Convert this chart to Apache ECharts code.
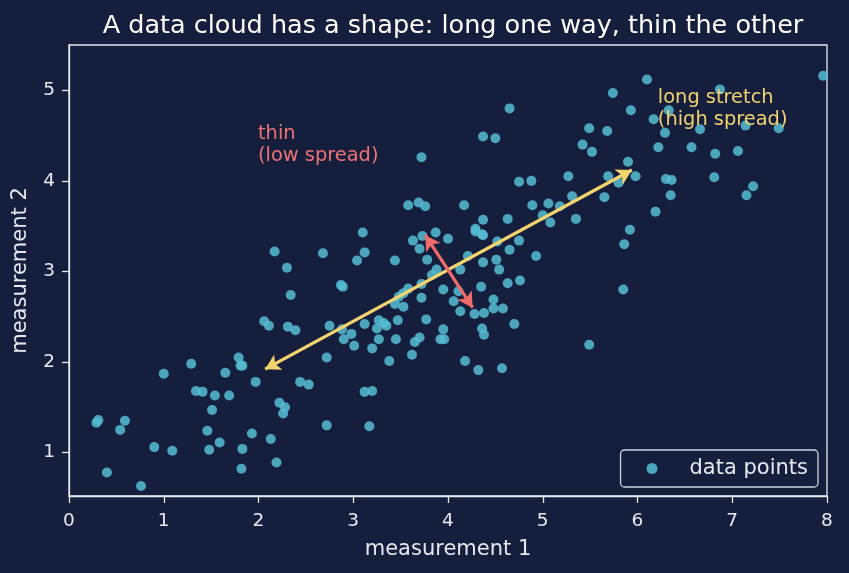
<!DOCTYPE html>
<html>
<head>
<meta charset="utf-8">
<script src="https://cdn.jsdelivr.net/npm/echarts@6/dist/echarts.min.js"></script>
<style>
  html, body { margin: 0; padding: 0; background: #151f3d; }
  #chart { width: 849px; height: 573px; }
</style>
</head>
<body>
<div id="chart"></div>
<script>
const measure1 = [0.29, 0.31, 0.40, 0.59, 0.54, 0.76, 0.90, 1.09, 1.00, 1.29, 1.34, 1.41, 1.54, 1.69, 1.51, 1.46, 1.59, 1.48, 1.83, 1.82,
  1.93, 2.13, 2.19, 1.97, 1.79, 1.83, 1.81, 1.65, 2.22, 2.28, 2.26, 2.44, 2.53, 2.17, 2.30, 2.34, 2.06, 2.11, 2.31, 2.39,
  2.68, 3.10, 3.12, 3.04, 3.44, 3.63, 3.73, 3.70, 3.87, 4.00, 3.78, 3.88, 3.83, 4.13, 4.21, 4.37, 4.37, 4.29, 4.52, 4.65,
  4.75, 4.51, 4.54, 4.93, 2.87, 2.89, 3.53, 3.58, 3.48, 3.72, 3.72, 3.53, 3.44, 3.95, 4.11, 4.06, 4.13, 4.28, 4.38, 4.48,
  4.48, 4.58, 4.35, 4.63, 4.76, 4.70, 4.36, 4.38, 3.95, 3.96, 3.92, 3.77, 3.47, 3.32, 3.27, 3.25, 3.35, 3.12, 3.27, 3.45,
  3.70, 3.65, 2.75, 2.88, 2.90, 2.98, 3.01, 3.20, 2.72, 3.38, 3.62, 4.18, 4.32, 4.57, 3.12, 3.20, 2.72, 3.17, 4.65, 4.37,
  4.50, 3.72, 4.75, 4.88, 3.58, 3.69, 3.76, 4.17, 4.89, 5.06, 5.18, 5.00, 5.08, 4.37, 4.63, 4.29, 4.36, 6.10, 7.96, 5.74,
  6.87, 5.93, 6.17, 6.33, 6.29, 6.66, 7.14, 7.49, 5.49, 5.68, 5.42, 5.52, 6.22, 6.57, 6.82, 7.06, 5.90, 5.98, 5.69, 5.80,
  5.27, 5.31, 5.65, 5.35, 6.30, 6.36, 6.81, 6.35, 7.22, 7.15, 6.19, 5.92, 5.86, 5.85, 5.49]
const measure2 = [1.33, 1.36, 0.78, 1.35, 1.25, 0.63, 1.06, 1.02, 1.87, 1.98, 1.68, 1.67, 1.63, 1.63, 1.47, 1.24, 1.11, 1.03, 1.04, 0.82,
  1.21, 1.15, 0.89, 1.78, 2.05, 1.96, 1.96, 1.88, 1.55, 1.50, 1.43, 1.78, 1.75, 3.22, 3.04, 2.74, 2.45, 2.40, 2.39, 2.35,
  3.20, 3.43, 3.21, 3.12, 3.12, 3.34, 3.39, 3.25, 3.43, 3.36, 3.13, 3.02, 2.96, 3.02, 3.17, 3.10, 3.40, 3.44, 3.33, 3.24,
  3.34, 3.13, 3.02, 3.17, 2.85, 2.83, 2.76, 2.81, 2.72, 2.86, 2.71, 2.61, 2.64, 2.80, 2.78, 2.67, 2.56, 2.53, 2.54, 2.59,
  2.69, 2.59, 2.83, 2.87, 2.90, 2.42, 2.37, 2.30, 2.36, 2.25, 2.25, 2.47, 2.46, 2.43, 2.46, 2.37, 2.40, 2.42, 2.25, 2.25,
  2.27, 2.22, 2.40, 2.36, 2.25, 2.31, 2.18, 2.15, 2.05, 2.01, 2.08, 2.01, 1.91, 1.93, 1.67, 1.68, 1.30, 1.29, 4.80, 4.49,
  4.47, 4.26, 3.99, 4.00, 3.73, 3.76, 3.72, 3.73, 3.73, 3.75, 3.72, 3.62, 3.54, 3.57, 3.58, 3.47, 3.41, 5.12, 5.16, 4.97,
  5.01, 4.78, 4.68, 4.78, 4.53, 4.57, 4.61, 4.58, 4.58, 4.55, 4.40, 4.32, 4.37, 4.37, 4.30, 4.33, 4.21, 4.05, 4.05, 3.98,
  4.05, 3.83, 3.82, 3.58, 4.02, 4.01, 4.04, 3.84, 3.94, 3.84, 3.66, 3.46, 3.30, 2.80, 2.19]

// arrow ends (data coords)
const longArrow = [[2.07, 1.92], [5.94, 4.12]]
const thinArrow = [[3.76, 3.40], [4.26, 2.60]]
// annotation anchors (top-left of text)
const notes = [
  { text: 'thin\n(low spread)', at: [2.0, 4.63], color: '#f07272' },
  { text: 'long stretch\n(high spread)', at: [6.22, 5.03], color: '#f2d36e' }
]

const fg = '#e6e9f0'
const font = 'DejaVu Sans'
let points = measure1.map(function (v, i) { return [v, measure2[i]] })

let myChart = echarts.init(document.getElementById('chart'))
myChart.setOption({
  backgroundColor: '#151f3d',
  animation: false,
  textStyle: { fontFamily: font },
  title: {
    text: 'A data cloud has a shape: long one way, thin the other',
    left: 448, top: 8, textAlign: 'center',
    textStyle: { color: '#ffffff', fontSize: 25.5, fontWeight: 'normal', fontFamily: font }
  },
  grid: { left: 69, right: 22, top: 45, bottom: 77, show: true, borderColor: fg, borderWidth: 1.3, backgroundColor: 'transparent' },
  legend: {
    data: ['data points'],
    right: 31, bottom: 86,
    orient: 'vertical',
    padding: [8, 10, 8, 26],
    itemGap: 0,
    itemWidth: 11, itemHeight: 11,
    borderColor: '#d0d4de', borderWidth: 1.3, borderRadius: 4,
    backgroundColor: '#151f3d',
    textStyle: { color: fg, fontSize: 21, fontFamily: font, padding: [0, 0, 0, 27] }
  },
  xAxis: {
    type: 'value', min: 0, max: 8, interval: 1,
    name: 'measurement 1', nameLocation: 'middle', nameGap: 43,
    nameTextStyle: { color: fg, fontSize: 21, fontFamily: font },
    axisLine: { lineStyle: { color: fg, width: 1.3 } },
    axisTick: { show: true, length: 7, lineStyle: { color: fg, width: 1.3 } },
    axisLabel: { color: fg, fontSize: 18.5, margin: 16 },
    splitLine: { show: false }
  },
  yAxis: {
    type: 'value', min: 0.52, max: 5.5,
    name: 'measurement 2', nameLocation: 'middle', nameGap: 38, nameRotate: 90,
    nameTextStyle: { color: fg, fontSize: 21, fontFamily: font },
    axisLine: { show: true, lineStyle: { color: fg, width: 1.3 } },
    axisTick: { show: true, length: 7, lineStyle: { color: fg, width: 1.3 }, customValues: [1, 2, 3, 4, 5] },
    axisLabel: { color: fg, fontSize: 18.5, margin: 14, customValues: [1, 2, 3, 4, 5] },
    splitLine: { show: false }
  },
  series: [
    {
      name: 'data points',
      type: 'scatter',
      data: points,
      symbolSize: 10,
      itemStyle: { color: '#55bdd4', opacity: 0.85 },
      z: 2
    },
    {
      name: 'arrows',
      type: 'line',
      data: [],
      z: 3,
      markLine: {
        silent: true,
        symbol: ['arrow', 'arrow'],
        symbolSize: [13, 15],
        label: { show: false },
        data: [
          [{ coord: longArrow[0], lineStyle: { color: '#f5d46e', width: 3.2, type: 'solid' } }, { coord: longArrow[1] }],
          [{ coord: thinArrow[0], lineStyle: { color: '#f26b6b', width: 3.2, type: 'solid' } }, { coord: thinArrow[1] }]
        ]
      },
      markPoint: {
        silent: true,
        symbol: 'circle',
        symbolSize: 1,
        itemStyle: { color: 'transparent' },
        data: notes.map(function (n) {
          return {
            coord: n.at,
            label: {
              show: true, formatter: n.text, position: [0, 0],
              align: 'left', verticalAlign: 'top',
              color: n.color, fontSize: 19.4, lineHeight: 22, fontFamily: font
            }
          }
        })
      }
    }
  ]
})
window.onresize = myChart.resize
</script>
</body>
</html>
